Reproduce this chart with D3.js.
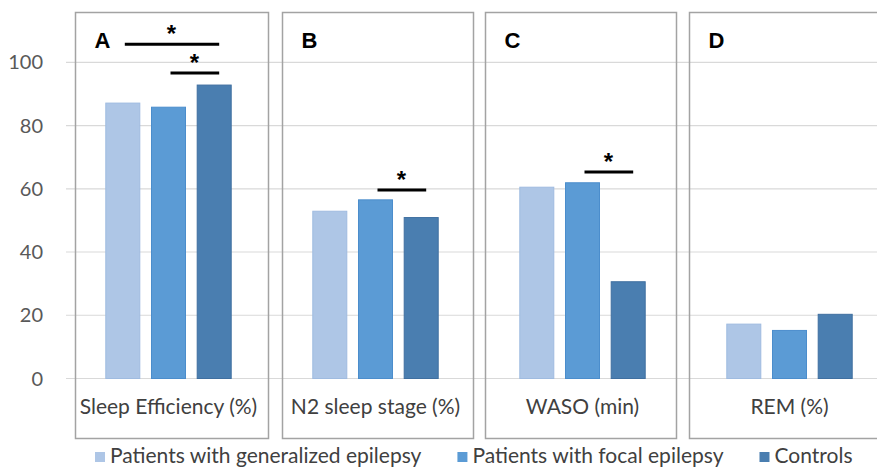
<!DOCTYPE html>
<html lang="en">
<head>
    <meta charset="UTF-8">
    <script src="https://cdn.jsdelivr.net/npm/d3@7"></script>
    <title>Sleep parameters</title>
    <style>
        body { margin: 0; background: white; }
        text { font-family: Lato, 'Open Sans', sans-serif; }
        .grid line { stroke: #d9d9d9; stroke-width: 1.2px; }
        .panel { fill: none; stroke: #a3a3a3; stroke-width: 1.5px; }
    </style>
</head>
<body>
    <div id="chart"></div>
    <script>
        const categories = ["Sleep Efficiency (%)", "N2 sleep stage (%)", "WASO (min)", "REM (%)"];
        const panelLetters = ["A", "B", "C", "D"];
        const seriesNames = ["Patients with generalized epilepsy", "Patients with focal epilepsy", "Controls"];
        const generalized = [87.1, 52.9, 60.5, 17.2];
        const focal = [85.8, 56.5, 61.9, 15.2];
        const controls = [92.8, 50.9, 30.6, 20.3];
        const yTicks = [0, 20, 40, 60, 80, 100];
        // significance bars: panel index, from series, to series, height in axis units
        const sigBars = [
            { cat: 0, from: 0, to: 2, y: 105.7 },
            { cat: 0, from: 1, to: 2, y: 96.6 },
            { cat: 1, from: 1, to: 2, y: 59.6 },
            { cat: 2, from: 1, to: 2, y: 65.3 }
        ];

        const width = 877, height = 468;
        const fills = ["#aec6e6", "#5b9bd5", "#4a7eb0"];
        const strokes = ["#9fbbe0", "#4b8dcc", "#3f6fa0"];
        // hand drawn frames around each group: left / right offsets from the group centre
        const frameEdges = [[-93, 100], [-93, 98], [-97, 94], [-100, 95]];

        const values = [generalized, focal, controls];

        const svg = d3.select("#chart").append("svg")
            .attr("width", width)
            .attr("height", height);

        const x = d3.scaleBand().domain(d3.range(categories.length)).range([65, 893]);
        const xs = d3.scaleBand().domain(d3.range(seriesNames.length))
            .range([-63.2, 63.2]).paddingInner(0.234);
        const y = d3.scaleLinear().domain([0, 100]).range([378.5, 62.3]);
        const cx = i => x(i) + x.bandwidth() / 2;

        // gridlines
        svg.append("g").attr("class", "grid")
            .selectAll("line").data(yTicks).enter().append("line")
            .attr("x1", 66).attr("x2", width)
            .attr("y1", d => y(d)).attr("y2", d => y(d));

        // y axis labels
        svg.append("g").selectAll("text").data(yTicks).enter().append("text")
            .attr("x", 43).attr("y", d => y(d))
            .attr("dy", "0.35em")
            .attr("text-anchor", "end")
            .attr("fill", "#595959")
            .style("font-size", "20px")
            .text(d => d);

        // frames
        svg.append("g").selectAll("rect").data(categories).enter().append("rect")
            .attr("class", "panel")
            .attr("x", (d, i) => cx(i) + frameEdges[i][0])
            .attr("y", 12.5)
            .attr("width", (d, i) => frameEdges[i][1] - frameEdges[i][0])
            .attr("height", 426);

        // bars
        const groups = svg.append("g").selectAll("g").data(categories).enter().append("g")
            .attr("transform", (d, i) => `translate(${cx(i)},0)`);
        groups.selectAll("rect")
            .data((d, i) => values.map((s, k) => ({ k: k, v: s[i] })))
            .enter().append("rect")
            .attr("x", d => xs(d.k) + 0.5)
            .attr("width", xs.bandwidth() - 1)
            .attr("y", d => y(d.v))
            .attr("height", d => y(0) - y(d.v))
            .attr("fill", d => fills[d.k])
            .attr("stroke", d => strokes[d.k])
            .attr("stroke-width", 1);

        // category labels
        svg.append("g").selectAll("text").data(categories).enter().append("text")
            .attr("x", (d, i) => cx(i))
            .attr("y", 414)
            .attr("text-anchor", "middle")
            .attr("fill", "#404040")
            .style("font-size", "21px")
            .text(d => d);

        // panel letters
        svg.append("g").selectAll("text").data(panelLetters).enter().append("text")
            .attr("x", (d, i) => cx(i) + frameEdges[i][0] + 19)
            .attr("y", 48)
            .attr("fill", "black")
            .style("font-family", "'Liberation Sans', Arial, sans-serif")
            .style("font-weight", "bold")
            .style("font-size", "22px")
            .text(d => d);

        // significance markers
        const sig = svg.append("g").selectAll("g").data(sigBars).enter().append("g");
        sig.append("line")
            .attr("x1", d => cx(d.cat) + xs(d.from) + xs.bandwidth() / 2 + 2)
            .attr("x2", d => cx(d.cat) + xs(d.to) + xs.bandwidth() / 2 + 5)
            .attr("y1", d => y(d.y)).attr("y2", d => y(d.y))
            .attr("stroke", "black").attr("stroke-width", 3);
        sig.append("text")
            .attr("x", d => cx(d.cat) + (xs(d.from) + xs(d.to) + xs.bandwidth()) / 2 + 3)
            .attr("y", d => y(d.y) - 2)
            .attr("text-anchor", "middle")
            .style("font-family", "'Liberation Sans', Arial, sans-serif")
            .style("font-weight", "bold")
            .style("font-size", "24px")
            .text("*");

        // legend
        const legend = svg.append("g").attr("transform", "translate(95,0)");
        let lx = 0;
        seriesNames.forEach((name, k) => {
            legend.append("rect")
                .attr("x", lx).attr("y", 452)
                .attr("width", 10).attr("height", 10)
                .attr("fill", fills[k]);
            const t = legend.append("text")
                .attr("x", lx + 15).attr("y", 463)
                .attr("fill", "#404040")
                .style("font-size", "21px")
                .text(name);
            lx += 15 + t.node().getComputedTextLength() + 36;
        });
    </script>
</body>
</html>
